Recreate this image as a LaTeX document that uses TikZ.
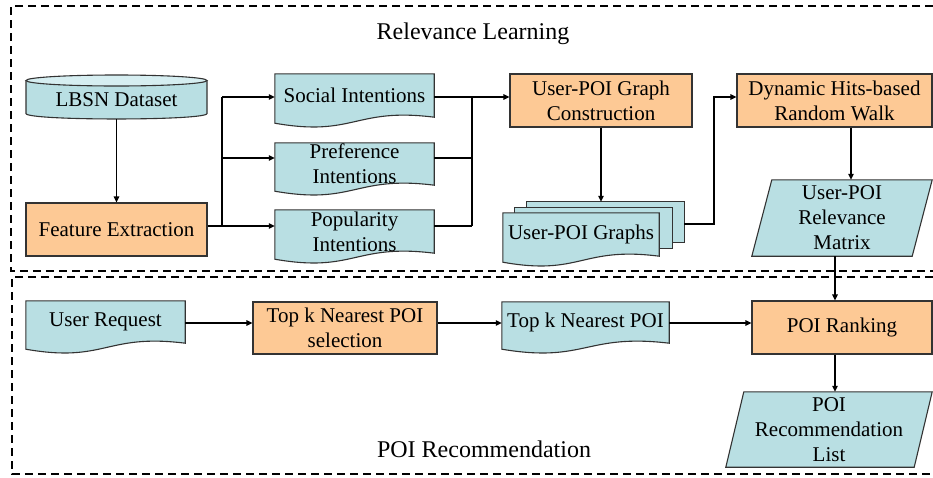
\documentclass[tikz,border=0pt]{standalone}
\usepackage{fontspec}
\setmainfont{Liberation Serif}
\usetikzlibrary{arrows.meta,calc,backgrounds}
\definecolor{tealc}{HTML}{B9DFE3}
\definecolor{tealtop}{HTML}{D6EEF1}
\definecolor{orangec}{HTML}{FDC995}
\definecolor{edgec}{HTML}{333333}
\newcommand{\docshape}[1]{\path[shp] (#1.north west) -- (#1.north east) -- (#1.south east) .. controls ($(#1.south)+(0,-10)$) and ($(#1.south)+(0,20)$) .. ($(#1.south west)+(0,6)$) -- cycle;}
\newcommand{\parashape}[2]{\path[shp] ($(#1.north west)+(#2,0)$) -- (#1.north east) -- ($(#1.south east)+(-#2,0)$) -- (#1.south west) -- cycle;}
\begin{document}
\begin{tikzpicture}[x=1pt,y=-1pt,
  txt/.style={inner sep=1pt, align=center, font=\fontsize{21}{25}\selectfont},
  box/.style={txt, draw=edgec, line width=1.1pt, fill=orangec},
  shp/.style={draw=edgec, line width=1.1pt, fill=tealc},
  conn/.style={line width=1.2pt, draw=black},
  arr/.style={conn, -{Triangle[length=6pt,width=5.5pt]}},
  frame/.style={line width=1.8pt, dash pattern=on 8pt off 5pt},
  title/.style={inner sep=1pt, font=\fontsize{24}{28}\selectfont}]
\useasboundingbox (0,0) rectangle (933,477);

% frames
\draw[frame] (933,6) -- (11,6) -- (11,271) -- (933,271);
\draw[frame] (933,277) -- (12,277) -- (12,474) -- (933,474);

% titles
\node[title] (t1) at (473,34) {Relevance Learning};
\node[title] (t2) at (484,449) {POI Recommendation};

% nodes
\node[txt, minimum width=181pt, minimum height=38pt] (lbsn) at (116.5,100) {LBSN Dataset};
\node[box, minimum width=181pt, minimum height=53pt] (feat) at (116.5,229.5) {Feature Extraction};
\node[txt, minimum width=159pt, minimum height=43pt] (soc) at (354.5,95.5) {Social Intentions};
\node[txt, minimum width=159pt, minimum height=42pt] (pref) at (354.5,164) {Preference\\Intentions};
\node[txt, minimum width=159pt, minimum height=43pt] (pop) at (354.5,231.5) {Popularity\\Intentions};
\node[box, minimum width=182pt, minimum height=53pt] (cons) at (601,100.5) {User-POI Graph\\Construction};
\node[box, minimum width=195pt, minimum height=53pt] (dyn) at (834.5,100.5) {Dynamic Hits-based\\Random Walk};
\node[inner sep=0, minimum width=157pt, minimum height=40pt] (graphsB) at (605.5,222) {};
\node[inner sep=0, minimum width=157pt, minimum height=40pt] (graphsM) at (593.5,228) {};
\node[txt, minimum width=156pt, minimum height=43pt] (graphs) at (581,234.5) {User-POI Graphs};
\node[txt, minimum width=180pt, minimum height=76pt] (mat) at (842,218) {User-POI\\Relevance\\Matrix};
\node[box, minimum width=180pt, minimum height=53pt] (rank) at (842,327.5) {POI Ranking};
\node[txt, minimum width=206pt, minimum height=75pt] (list) at (829,429.5) {POI\\Recommendation\\List};
\node[txt, minimum width=159pt, minimum height=42pt] (req) at (105.5,322) {User Request};
\node[box, minimum width=184pt, minimum height=52pt] (topsel) at (345,328) {Top k Nearest POI\\selection};
\node[txt, minimum width=167pt, minimum height=41pt] (topk) at (585.5,322.5) {Top k Nearest POI};

% shapes behind text
\begin{pgfonlayer}{background}
  \path[fill=tealc] (26,80.5) -- (26,113.5) .. controls (26,120.8) and (207,120.8) .. (207,113.5) -- (207,80.5) -- cycle;
  \draw[draw=edgec, line width=1.1pt] (26,80.5) -- (26,113.5) .. controls (26,120.8) and (207,120.8) .. (207,113.5) -- (207,80.5);
  \path[shp, fill=tealtop] (116.5,80.5) ellipse [x radius=90.5, y radius=5.5];
  \docshape{soc}
  \docshape{pref}
  \docshape{pop}
  \path[shp] (graphsB.north west) rectangle (graphsB.south east);
  \path[shp] (graphsM.north west) rectangle (graphsM.south east);
  \docshape{graphs}
  \docshape{req}
  \docshape{topk}
  \parashape{mat}{20}
  \parashape{list}{18}
\end{pgfonlayer}

% connectors
\coordinate (j1) at (222,226);
\coordinate (ysoc) at (0,97);
\coordinate (ypref) at (0,158);
\coordinate (j2) at (472,226);
\coordinate (j3) at (714,224);
\coordinate (xm) at (851,0);
\coordinate (xr) at (835,0);
\coordinate (yb) at (0,323);

\draw[arr] (lbsn.south) -- (feat.north);
\draw[conn] (feat.east |- j1) -- (j1);
\draw[arr] (j1) -- (pop.west |- j1);
\draw[conn] (j1) -- (j1 |- ysoc);
\draw[arr] (j1 |- ysoc) -- (soc.west |- ysoc);
\draw[arr] (j1 |- ypref) -- (pref.west |- ypref);
\draw[arr] (soc.east |- ysoc) -- (cons.west |- ysoc);
\draw[conn, line width=2pt] (pref.east |- ypref) -- (j2 |- ypref);
\draw[conn] (pop.east |- j2) -- (j2);
\draw[conn, line width=2pt] (j2) -- (j2 |- ysoc);
\draw[arr] (cons.south) -- (cons.south |- graphsB.north);
\draw[arr] (graphsB.east |- j3) -- (j3) -- (j3 |- ysoc) -- (dyn.west |- ysoc);
\draw[arr] (dyn.south -| xm) -- (mat.north -| xm);
\draw[arr] (mat.south -| xr) -- (rank.north -| xr);
\draw[arr] (rank.south -| xr) -- (list.north -| xr);
\draw[arr] (req.east |- yb) -- (topsel.west |- yb);
\draw[arr] (topsel.east |- yb) -- (topk.west |- yb);
\draw[arr] (topk.east |- yb) -- (rank.west |- yb);
\end{tikzpicture}
\end{document}
